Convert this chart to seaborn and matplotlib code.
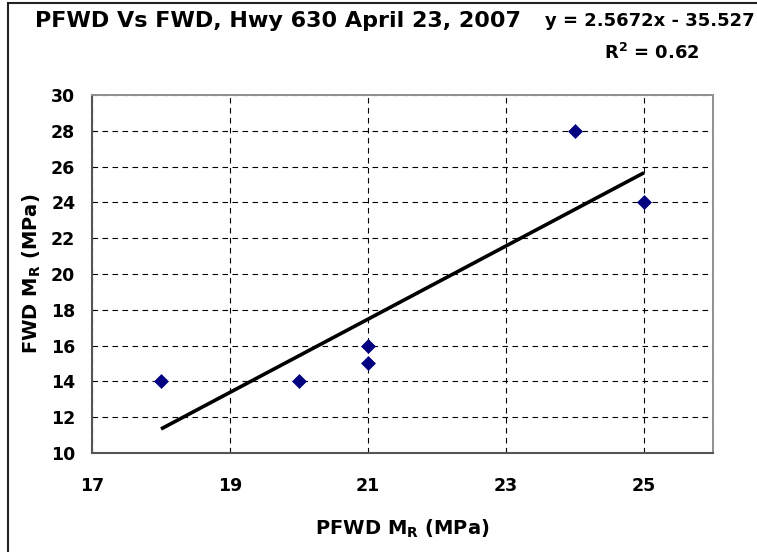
import matplotlib
matplotlib.use("Agg")
import matplotlib.pyplot as plt
import seaborn as sns
import pandas as pd
from matplotlib.patches import Rectangle

# Data
pfwd = [18, 20, 21, 21, 24, 25]
fwd = [14, 14, 15, 16, 28, 24]
x_ticks = [17, 19, 21, 23, 25]
y_ticks = [10, 12, 14, 16, 18, 20, 22, 24, 26, 28, 30]
title = "PFWD Vs FWD, Hwy 630 April 23, 2007"
equation = "y = 2.5672x - 35.527"
r2_text = "R$^2$ = 0.62"

df = pd.DataFrame({"PFWD": pfwd, "FWD": fwd})

sns.set_style("white")
plt.rcParams["font.family"] = ["DejaVu Sans"]
plt.rcParams["font.weight"] = "bold"
plt.rcParams["text.color"] = "black"
plt.rcParams["axes.labelcolor"] = "black"
plt.rcParams["xtick.color"] = "black"
plt.rcParams["ytick.color"] = "black"
plt.rcParams["mathtext.fontset"] = "custom"
plt.rcParams["mathtext.rm"] = "DejaVu Sans:bold"
plt.rcParams["mathtext.bf"] = "DejaVu Sans:bold"
plt.rcParams["mathtext.it"] = "DejaVu Sans:bold"

fig = plt.figure(figsize=(7.57, 5.52), dpi=100)
ax = fig.add_axes([92/757, 1 - 453/552, (713-92)/757, (453-95)/552])

# Outer chart frame
fig.patches.append(Rectangle((8/757, -0.05), 1.2, 1 - 3/552 + 0.05,
                             transform=fig.transFigure, fill=False,
                             edgecolor="#222222", linewidth=1.5))

sns.regplot(data=df, x="PFWD", y="FWD", scatter=False, ci=None, truncate=True,
            line_kws=dict(color="black", linewidth=2.6, solid_capstyle="butt"), ax=ax)
sns.scatterplot(data=df, x="PFWD", y="FWD", marker="D", s=50, color="#000080",
                edgecolor="#000080", linewidth=0.5, ax=ax, zorder=5)

ax.set_xlim(17, 26)
ax.set_ylim(10, 30)
ax.set_xticks(x_ticks)
ax.set_yticks(y_ticks)
ax.grid(True, color="black", linestyle=(0, (5, 4)), linewidth=0.8)
ax.set_axisbelow(True)

for s in ["top", "right"]:
    ax.spines[s].set_color("#909090")
    ax.spines[s].set_linewidth(1.4)
for s in ["left", "bottom"]:
    ax.spines[s].set_color("#555555")
    ax.spines[s].set_linewidth(1.5)
for s in ax.spines.values():
    s.set_zorder(10)

ax.tick_params(axis="both", direction="inout", length=8, width=1, color="#333333",
               labelsize=12.5, labelcolor="black")
ax.tick_params(axis="x", pad=13)
ax.tick_params(axis="y", pad=8)
for lab in ax.get_xticklabels() + ax.get_yticklabels():
    lab.set_fontweight("bold")

ax.set_xlabel("PFWD M$_{R}$ (MPa)", fontsize=14, fontweight="bold", color="black")
ax.set_ylabel("FWD M$_{R}$ (MPa)", fontsize=14, fontweight="bold", color="black")
ax.xaxis.set_label_coords(0.5, (453 - 518) / 358)
ax.yaxis.set_label_coords((43 - 92) / 621, 0.5)

fig.text(35/757, 1 - 21/552, title, fontsize=16, fontweight="bold", va="center", ha="left", color="black")
fig.text(755/757, 1 - 21/552, equation, fontsize=13, fontweight="bold", va="center", ha="right", color="black")
fig.text(700/757, 1 - 53/552, r2_text, fontsize=13, fontweight="bold", va="center", ha="right", color="black")

fig.savefig("out.png", dpi=100)
